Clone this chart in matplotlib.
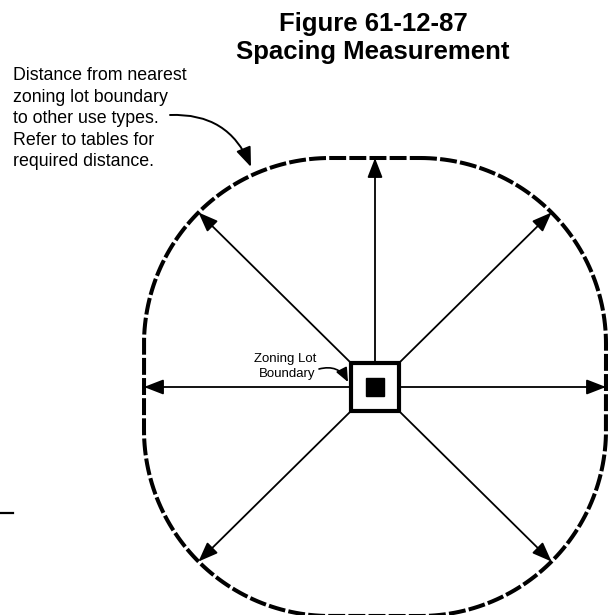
import numpy as np
import matplotlib.pyplot as plt
from matplotlib.patches import Rectangle

plt.rcParams['font.family'] = ['Liberation Sans', 'DejaVu Sans']

# geometry (pixel units, y grows downward)
title_lines = ["Figure 61-12-87", "Spacing Measurement"]
note_text = ["Distance from nearest", "zoning lot boundary", "to other use types.",
             "Refer to tables for", "required distance."]
lot_label = ["Zoning Lot", "Boundary"]
lot_center = (375, 387)
lot_half = 24
core_half = 9
# outer boundary: rounded rectangle (corner-arc centres at +-half, radius)
outer_half = (45, 43)
outer_radius = 186
# arrow directions from the lot edge/corner
arrow_dirs = [(0, -1), (1, -1), (1, 0), (1, 1), (0, 1), (-1, 1), (-1, 0), (-1, -1)]

fig = plt.figure(figsize=(6.12, 6.15), dpi=100)
ax = fig.add_axes([0, 0, 1, 1])
ax.set_xlim(0, 612)
ax.set_ylim(615, 0)
ax.axis('off')

cx, cy = lot_center
hx, hy = outer_half

# outer rounded boundary
pts = []
corners = [(1, -1, -90, 0), (1, 1, 0, 90), (-1, 1, 90, 180), (-1, -1, 180, 270)]
for sx, sy, a0, a1 in corners:
    ang = np.radians(np.linspace(a0, a1, 60))
    px = cx + sx * hx + outer_radius * np.cos(ang)
    py = cy + sy * hy + outer_radius * np.sin(ang)
    pts.append(np.column_stack([px, py]))
pts = np.vstack(pts + [pts[0][:1]])
ax.plot(pts[:, 0], pts[:, 1], color='black', lw=2.9, ls=(0, (4.2, 0.8)),
        solid_capstyle='butt', dash_capstyle='butt')

# lot square and core
ax.add_patch(Rectangle((cx - lot_half, cy - lot_half), 2 * lot_half, 2 * lot_half,
                       fill=False, ec='black', lw=3.0))
ax.add_patch(Rectangle((cx - core_half, cy - core_half), 2 * core_half, 2 * core_half,
                       fc='black', ec='black'))

# spacing arrows
astyle = dict(arrowstyle='-|>,head_length=0.85,head_width=0.33', color='black',
              lw=1.3, shrinkA=0, shrinkB=0, mutation_scale=14)
for dx, dy in arrow_dirs:
    sx0 = cx + dx * lot_half
    sy0 = cy + dy * lot_half
    if dx and dy:
        ex = cx + dx * hx + outer_radius * dx / np.sqrt(2)
        ey = cy + dy * hy + outer_radius * dy / np.sqrt(2)
    else:
        ex = cx + dx * (hx + outer_radius)
        ey = cy + dy * (hy + outer_radius)
    ax.annotate('', xy=(ex, ey), xytext=(sx0, sy0), arrowprops=astyle)

# titles
ax.text(373, 31, title_lines[0], ha='center', va='baseline', fontsize=18.5, fontweight='bold')
ax.text(373, 59, title_lines[1], ha='center', va='baseline', fontsize=18.5, fontweight='bold')

# note at top-left
for i, line in enumerate(note_text):
    ax.text(13, 80 + i * 21.6, line, ha='left', va='baseline', fontsize=12.8)
ax.annotate('', xy=(251, 167), xytext=(170, 115),
            arrowprops=dict(arrowstyle='-|>,head_length=0.85,head_width=0.33', color='black',
                            lw=1.4, shrinkA=0, shrinkB=0, mutation_scale=14,
                            connectionstyle='arc3,rad=-0.35'))

# lot label
ax.text(285, 362, lot_label[0], ha='center', va='baseline', fontsize=9.5)
ax.text(287, 377, lot_label[1], ha='center', va='baseline', fontsize=9.5)
ax.annotate('', xy=(348, 382), xytext=(319, 369),
            arrowprops=dict(arrowstyle='-|>,head_length=0.7,head_width=0.3', color='black',
                            lw=1.2, shrinkA=0, shrinkB=0, mutation_scale=12,
                            connectionstyle='arc3,rad=-0.4'))

# stray rule at left edge
ax.plot([0, 13], [513, 513], color='black', lw=1.6)

fig.savefig('out.png', dpi=100)
